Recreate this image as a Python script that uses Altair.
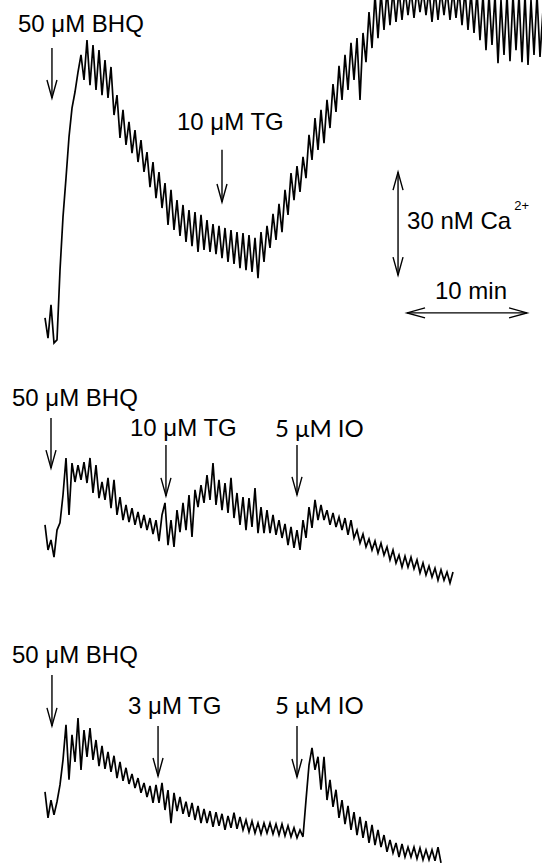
import altair as alt
import pandas as pd

# ---------------- data ----------------
STEP_MIN = 0.25

trace_names = ["trace A (BHQ, 10 uM TG)", "trace B (BHQ, 10 uM TG, IO)", "trace C (BHQ, 3 uM TG, IO)"]
trace_offsets_nM = [158.75, 95.25, 17.5]  # vertical stacking of the three records

# [Ca2+] relative to each record's starting level, nM
trace_a = [1.2, -4.7, 5.0, -6.1, -5.2, 15.1, 30.6, 41.9, 53.9, 62.3, 67.0, 72.8, 77.8, 70.5, 82.1, 69.0,
           80.7, 67.6, 79.2, 66.1, 76.3, 65.3, 74.3, 60.3, 66.1, 53.6, 61.8, 51.6, 58.3, 49.2, 55.9, 46.6,
           53.0, 43.7, 49.5, 39.3, 46.6, 36.1, 43.7, 33.2, 40.5, 28.3, 38.5, 26.8, 35.5, 25.1, 34.1, 23.3,
           32.6, 22.1, 32.0, 20.4, 31.2, 21.0, 29.7, 20.4, 28.5, 19.8, 28.0, 18.6, 27.4, 17.5, 26.8, 16.9,
           26.2, 15.7, 25.9, 15.1, 25.3, 14.6, 24.5, 12.8, 26.2, 17.5, 28.0, 21.6, 31.5, 23.9, 34.4, 26.2,
           38.5, 31.2, 43.4, 35.5, 45.4, 37.9, 48.1, 41.9, 54.5, 47.2, 59.4, 50.1, 61.8, 52.1, 64.7, 56.5,
           69.3, 61.2, 74.6, 64.7, 77.8, 67.6, 81.3, 70.5, 82.7, 64.7, 84.2, 75.7, 90.3, 79.8, 95.3, 82.7,
           96.1, 85.1, 96.7, 86.5, 96.7, 87.4, 96.7, 88.0, 96.7, 89.4, 96.7, 88.6, 96.7, 90.3, 96.7, 89.4,
           96.7, 87.4, 96.7, 88.0, 96.7, 89.4, 96.7, 88.0, 96.7, 88.6, 96.7, 86.5, 96.7, 85.1, 96.1, 84.2,
           96.1, 82.1, 95.3, 79.2, 95.3, 80.7, 95.3, 75.4, 93.8, 77.8, 95.3, 76.0, 95.3, 79.2, 95.3, 75.7,
           95.3, 74.9, 93.8, 77.8, 95.3, 77.2, 90.9]

trace_b = [4.4, -2.9, 0.0, -5.0, 2.9, 5.0, 13.1, 23.9, 7.3, 22.4, 16.9, 21.8, 17.5, 22.7, 16.6, 23.9,
           13.7, 21.8, 12.2, 16.9, 11.7, 18.1, 9.3, 17.5, 7.3, 12.5, 5.8, 10.2, 5.2, 9.3, 4.4, 8.2,
           3.5, 7.3, 2.9, 6.4, 1.7, 5.8, -0.3, 7.3, 10.8, -1.5, 5.8, -2.0, 8.7, 2.3, 10.8, 2.9,
           13.1, 0.9, 14.6, 9.6, 16.0, 10.8, 18.9, 11.7, 22.4, 10.2, 17.5, 8.7, 16.6, 7.9, 18.1, 6.4,
           13.7, 4.4, 12.5, 2.9, 12.2, 3.8, 15.1, 2.0, 9.6, 2.0, 8.7, 2.0, 7.3, 1.5, 5.8, 0.6,
           4.7, -1.5, 3.8, -2.3, 2.9, -2.9, 5.8, 0.6, 9.6, 3.5, 11.7, 5.8, 10.2, 5.8, 8.7, 4.4,
           7.9, 3.8, 6.7, 2.9, 6.4, 1.5, 5.8, 0.6, 2.9, -0.9, 1.7, -2.0, 0.3, -2.9, -0.3, -3.8,
           -0.9, -4.4, -2.0, -5.8, -2.9, -6.7, -4.4, -7.9, -4.7, -7.9, -5.0, -8.4, -5.8, -9.6, -6.7, -10.2,
           -7.6, -10.8, -8.2, -11.7, -8.7, -11.7, -9.3, -12.5, -9.3]

trace_c = [4.4, -3.2, 2.0, -2.3, 1.5, 6.4, 13.7, 23.9, 7.9, 21.0, 13.1, 25.9, 10.8, 22.4, 14.6, 23.0,
           13.7, 19.5, 11.9, 17.8, 11.1, 16.0, 10.2, 14.9, 8.4, 13.1, 7.6, 11.4, 6.7, 9.6, 5.5, 8.4,
           4.1, 7.0, 2.9, 6.1, 1.2, 6.4, 1.2, 7.0, -0.9, 4.9, -4.7, 4.1, -1.2, 2.9, -2.0, 1.5,
           -2.9, 1.2, -3.8, 0.3, -4.7, -0.6, -4.7, -1.2, -5.8, -1.5, -5.5, -2.0, -6.7, -2.6, -6.1, -1.7,
           -6.4, -2.9, -6.7, -3.8, -7.3, -4.1, -7.6, -4.7, -7.9, -4.7, -7.6, -4.7, -7.9, -5.0, -8.2, -5.0,
           -8.4, -5.5, -8.7, -6.1, -9.0, -6.7, -8.7, 2.0, 12.2, 17.2, 10.8, 14.6, 5.0, 14.6, 2.0, 7.9,
           0.0, 5.0, -3.2, 2.0, -5.0, 0.3, -6.7, -1.5, -8.2, -2.9, -9.0, -4.1, -10.5, -5.2, -11.1, -6.7,
           -11.7, -8.2, -13.1, -9.6, -13.4, -10.5, -14.6, -10.8, -14.6, -11.7, -14.6, -11.7, -15.1, -12.0, -15.4, -12.5,
           -15.4, -12.5, -15.7, -11.7, -16.3]

# drug-addition labels and arrows (time in min, level in nM on the stacked scale)
label_text = ["50 μM BHQ", "10 μM TG", "50 μM BHQ", "10 μM TG", "50 μM BHQ", "3 μM TG"]
label_t = [-2.25, 11.0, -2.75, 7.08, -2.75, 6.92]
label_v = [243.2, 214.7, 134.3, 125.5, 59.4, 44.6]

io_text = ["5 μM IO", "5 μM IO"]
io_t = [19.17, 19.17]
io_v = [125.3, 44.6]

arrow_t = [0.58, 14.75, 0.5, 10.08, 21.0, 0.58, 9.42, 21.0]
arrow_top = [238.6, 208.9, 130.8, 122.9, 122.9, 55.9, 41.1, 41.1]
arrow_tip = [224.0, 193.7, 116.2, 108.1, 108.4, 41.1, 26.5, 26.2]

# scale bars: 30 nM vertical, 10 min horizontal
bar_v_t = 29.42
bar_v_from, bar_v_to = 172.4, 202.4
bar_h_v = 161.4
bar_h_from, bar_h_to = 30.17, 40.17
bar_text = ["30 nM Ca", "10 min"]
bar_text_t = [30.17, 32.5]
bar_text_v = [185.8, 165.5]
sup_text, sup_t, sup_v = "2+", 39.1, 191.4

# ---------------- build tables ----------------
rows = []
for name, off, vals in zip(trace_names, trace_offsets_nM, [trace_a, trace_b, trace_c]):
    for i, v in enumerate(vals):
        rows.append({"trace": name, "t": i * STEP_MIN, "v": off + v})
traces_df = pd.DataFrame(rows)

labels_df = pd.DataFrame({"text": label_text, "t": label_t, "v": label_v})
io_df = pd.DataFrame({"text": io_text, "t": io_t, "v": io_v})
shafts_df = pd.DataFrame({"t": arrow_t + [bar_v_t], "top": arrow_top + [bar_v_to],
                          "tip": arrow_tip + [bar_v_from]})
heads_df = pd.DataFrame({
    "t": arrow_t + [bar_v_t, bar_v_t, bar_h_from, bar_h_to],
    "v": arrow_tip + [bar_v_from, bar_v_to, bar_h_v, bar_h_v],
    "angle": [0] * len(arrow_t) + [0, 180, 90, 270],
})
hbar_df = pd.DataFrame({"t": [bar_h_from], "t2": [bar_h_to], "v": [bar_h_v]})
bar_text_df = pd.DataFrame({"text": bar_text, "t": bar_text_t, "v": bar_text_v})
sup_df = pd.DataFrame({"text": [sup_text], "t": [sup_t], "v": [sup_v]})

XS = alt.Scale(domain=[-3.75, 41.4167], nice=False, zero=False)
YS = alt.Scale(domain=[0, 252.55], nice=False, zero=False)

def X(f="t"):
    return alt.X(f"{f}:Q", scale=XS, axis=None)

def Y(f="v"):
    return alt.Y(f"{f}:Q", scale=YS, axis=None)

ARROW = "M-1,-3.6L0,0L1,-3.6"
FONT = "Liberation Sans"
FS = 24

traces = alt.Chart(traces_df).mark_line(color="black", strokeWidth=1.7, clip=True,
                                        strokeJoin="miter").encode(
    x=X(), y=Y(), detail="trace:N")

shafts = alt.Chart(shafts_df).mark_rule(color="black", strokeWidth=1.4).encode(
    x=X(), y=Y("top"), y2="tip:Q")

hbar = alt.Chart(hbar_df).mark_rule(color="black", strokeWidth=1.4).encode(
    x=X(), x2="t2:Q", y=Y())

heads = alt.Chart(heads_df).mark_point(shape=ARROW, filled=False, size=100, strokeWidth=1.4,
                                       color="black", opacity=1).encode(
    x=X(), y=Y(), angle=alt.Angle("angle:Q", scale=None))

labels = alt.Chart(labels_df).mark_text(align="left", baseline="alphabetic", font=FONT,
                                        fontSize=FS, color="black").encode(x=X(), y=Y(), text="text:N")

io_labels = alt.Chart(io_df).mark_text(align="left", baseline="alphabetic", font="Lato",
                                       fontSize=24, color="black").encode(x=X(), y=Y(), text="text:N")

bar_labels = alt.Chart(bar_text_df).mark_text(align="left", baseline="alphabetic", font=FONT,
                                              fontSize=FS, color="black").encode(x=X(), y=Y(), text="text:N")

sup = alt.Chart(sup_df).mark_text(align="left", baseline="alphabetic", font=FONT,
                                  fontSize=13, color="black").encode(x=X(), y=Y(), text="text:N")

chart = alt.layer(traces, shafts, hbar, heads, labels, io_labels, bar_labels, sup).properties(
    width=542, height=867, padding=0, autosize=alt.AutoSizeParams(type="none"),
    background="white",
).configure_view(stroke=None)

chart.save("out.html", embed_options={"renderer": "svg", "actions": False})
